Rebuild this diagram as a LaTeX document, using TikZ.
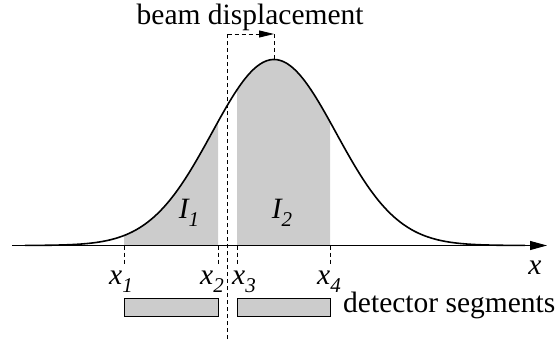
\documentclass[tikz,border=0pt]{standalone}
\usepackage{fontspec}
\setmainfont{Liberation Serif}
\usetikzlibrary{arrows.meta}
\newcommand{\sbs}[1]{\raisebox{-8.5pt}{\fontsize{21}{21}\selectfont #1}}
\newcommand{\gaussy}[1]{245.5-186*exp(-0.5*((#1-274)/62)^2)}
\begin{document}
\begin{tikzpicture}[x=1pt, y=-1pt,
		every node/.style={font=\fontsize{29.5}{34}\selectfont, inner sep=0pt},
		guide/.style={line width=0.8pt, dash pattern=on 4pt off 3pt},
		seg/.style={draw, fill=black!20, line width=0.8pt, minimum height=18pt, anchor=north west}]
	\useasboundingbox (0,0) rectangle (558,340);
	
	% === 阴影区域 ===
	\fill[black!20] (124,245.5) -- plot[domain=124:218, samples=40] (\x, {\gaussy{\x}}) -- (218,245.5) -- cycle;
	\fill[black!20] (237,245.5) -- plot[domain=237:330, samples=40] (\x, {\gaussy{\x}}) -- (330,245.5) -- cycle;
	
	% 坐标轴
	\coordinate (ax0) at (12,245.5);
	\coordinate (ax1) at (547,245.5);
	\draw[line width=1pt, -{Triangle[length=17pt, width=9pt]}] (ax0) -- (ax1);
	\node[anchor=base] (lx) at (535,274) {\textit{x}};
	
	% 高斯曲线
	\draw[line width=1.6pt, domain=25:525, samples=150, smooth] plot (\x, {\gaussy{\x}});
	
	% 刻度虚线
	\foreach \i/\xx in {1/124, 2/218, 3/237, 4/330} {
		\coordinate (t\i) at (\xx,245.5);
		\coordinate (b\i) at (\xx,265);
		\draw[guide] (t\i) -- (b\i);
	}
	\node[anchor=base] (lx1) at (121,284) {\textit{x\sbs{1}}};
	\node[anchor=base] (lx2) at (212,284) {\textit{x\sbs{2}}};
	\node[anchor=base] (lx3) at (244,284) {\textit{x\sbs{3}}};
	\node[anchor=base] (lx4) at (329,284) {\textit{x\sbs{4}}};
	
	% 积分标签
	\node[anchor=base] (li1) at (189,218) {\textit{I\sbs{1}}};
	\node[anchor=base] (li2) at (282,218) {\textit{I\sbs{2}}};
	
	% 光束位移
	\coordinate (peak) at (274,59.5);
	\coordinate (c0) at (227.5,34);
	\coordinate (c1) at (274,34);
	\coordinate (cb) at (227.5,339);
	\draw[guide] (cb) -- (c0);
	\draw[guide, -{Triangle[length=15pt, width=7pt]}] (c0) -- (c1);
	\draw[guide] (c1) -- (peak);
	\node[anchor=base west] (title) at (136.5,24.5) {beam displacement};
	
	% 探测器分段
	\node[seg, minimum width=94pt] (s1) at (124,298) {};
	\node[seg, minimum width=93pt] (s2) at (237,298) {};
	\node[anchor=base west] (segtxt) at (343,312.7) {detector segments};
\end{tikzpicture}
\end{document}
